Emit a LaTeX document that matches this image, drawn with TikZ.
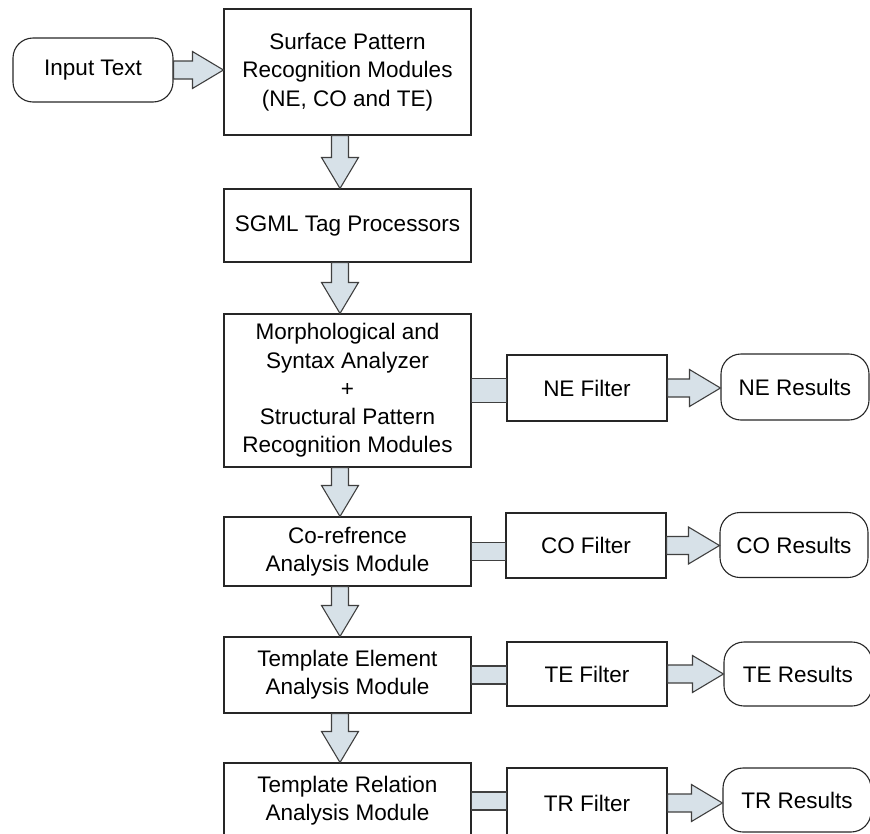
\documentclass[tikz,border=0pt]{standalone}
\usepackage{fontspec}
\setmainfont{Liberation Sans}
\usetikzlibrary{calc}
\usepackage{xcolor}
\definecolor{arrowfill}{HTML}{D7E1E8}
\definecolor{arrowline}{HTML}{404040}

% block arrows between named nodes
\newcommand{\blockdown}[2]{%
  \draw[blockarr] let \p1=(#1.south -| spine), \p2=(#2.north -| spine) in
    (\x1-8.5pt,\y1) -- (\x1-8.5pt,\y2+31pt) -- (\x1-18.5pt,\y2+31pt) -- (\x2,\y2)
    -- (\x1+18.5pt,\y2+31pt) -- (\x1+8.5pt,\y2+31pt) -- (\x1+8.5pt,\y1) -- cycle;}
\newcommand{\blockright}[2]{%
  \draw[blockarr] let \p1=(#1.east), \p2=(#2.west) in
    (\x1,\y1+9pt) -- (\x2-31pt,\y1+9pt) -- (\x2-31pt,\y1+18.5pt) -- (\x2,\y1)
    -- (\x2-31pt,\y1-18.5pt) -- (\x2-31pt,\y1-9pt) -- (\x1,\y1-9pt) -- cycle;}
\newcommand{\blockbar}[3]{%
  \draw[blockarr] let \p1=(#1.east), \p2=(#2.west) in
    (\x1,\y1+#3) rectangle (\x2,\y1-#3);}

\begin{document}
\begin{tikzpicture}[
    x=1pt,y=-1pt,
    modbox/.style={draw=black!85,line width=1.1pt,align=center,inner sep=0pt,
      font=\fontsize{22.5}{28.3}\selectfont,minimum width=247pt},
    filterbox/.style={modbox,minimum width=160pt},
    endbox/.style={modbox,rounded corners=20pt,minimum width=148pt},
    blockarr/.style={draw=arrowline,fill=arrowfill,line width=1.1pt,line join=miter},
]
\useasboundingbox (0,0) rectangle (870,833);
\coordinate (spine) at (340,0);

\node[endbox,minimum width=160pt,minimum height=64pt] (input) at (93,70) {Input Text};
\node[modbox,minimum height=126pt] (surface) at (347.5,72)
  {Surface Pattern\\Recognition Modules\\(NE, CO and TE)};
\node[modbox,minimum height=73pt]  (sgml)  at (347.5,225.5) {SGML Tag Processors};
\node[modbox,minimum height=153pt] (morph) at (347.5,390.5)
  {Morphological and\\Syntax Analyzer\\+\\Structural Pattern\\Recognition Modules};
\node[modbox,minimum height=69pt]  (coref) at (347.5,551.5) {Co-refrence\\Analysis Module};
\node[modbox,minimum height=76pt]  (tem)   at (347.5,675)   {Template Element\\Analysis Module};
\node[modbox,minimum height=76pt]  (trm)   at (347.5,801)   {Template Relation\\Analysis Module};

\node[filterbox,minimum height=66pt] (nef) at (587,388)   {NE Filter};
\node[filterbox,minimum height=65pt] (cof) at (586,545.5) {CO Filter};
\node[filterbox,minimum height=64pt] (tef) at (587,674)   {TE Filter};
\node[filterbox,minimum height=70pt] (trf) at (587,803)   {TR Filter};

\node[endbox,minimum height=66pt] (ner) at (795,387)   {NE Results};
\node[endbox,minimum height=65pt] (cor) at (794,545)   {CO Results};
\node[endbox,minimum height=64pt] (ter) at (798,674)   {TE Results};
\node[endbox,minimum height=64pt] (trr) at (797,800)   {TR Results};

% main pipeline
\blockright{input}{surface}
\blockdown{surface}{sgml}
\blockdown{sgml}{morph}
\blockdown{morph}{coref}
\blockdown{coref}{tem}
\blockdown{tem}{trm}

% filters and results
\blockbar{morph}{nef}{12pt}
\blockbar{coref}{cof}{9pt}
\blockbar{tem}{tef}{9pt}
\blockbar{trm}{trf}{9pt}
\blockright{nef}{ner}
\blockright{cof}{cor}
\blockright{tef}{ter}
\blockright{trf}{trr}
\end{tikzpicture}
\end{document}
